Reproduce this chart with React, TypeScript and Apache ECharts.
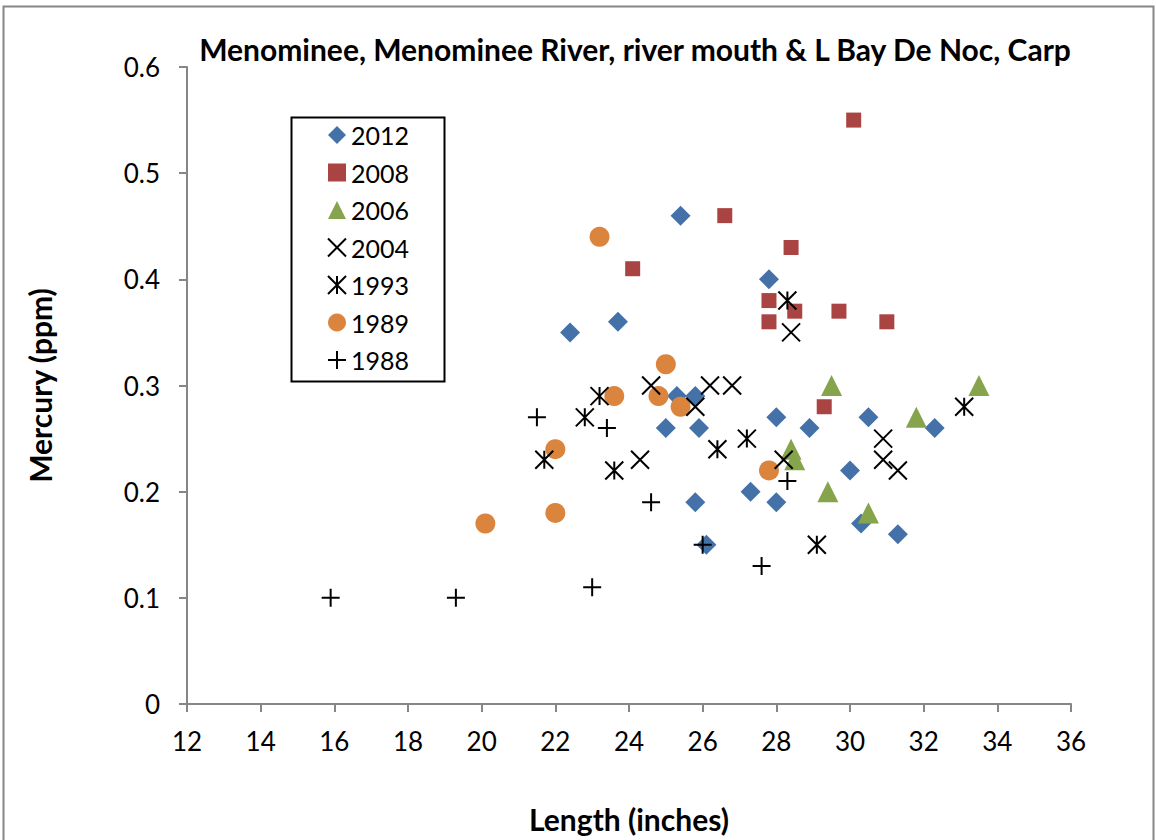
import React, { useEffect, useRef } from "react";
import * as echarts from "echarts";

const seriesNames = ["2012", "2008", "2006", "2004", "1993", "1989", "1988"];

const data2012: [number, number][] = [
  [22.4, 0.35], [23.7, 0.36], [25.4, 0.46], [27.8, 0.4], [25.0, 0.26], [25.3, 0.29],
  [25.8, 0.29], [25.9, 0.26], [25.8, 0.19], [26.1, 0.15], [27.3, 0.2], [28.0, 0.27],
  [28.0, 0.19], [28.9, 0.26], [30.0, 0.22], [30.5, 0.27], [30.3, 0.17], [31.3, 0.16],
  [32.3, 0.26],
];
const data2008: [number, number][] = [
  [30.1, 0.55], [26.6, 0.46], [28.4, 0.43], [24.1, 0.41], [27.8, 0.38], [28.5, 0.37],
  [29.7, 0.37], [27.8, 0.36], [31.0, 0.36], [29.3, 0.28],
];
const data2006: [number, number][] = [
  [29.5, 0.3], [33.5, 0.3], [31.8, 0.27], [28.4, 0.24], [28.5, 0.23], [29.4, 0.2], [30.5, 0.18],
];
const data2004: [number, number][] = [
  [24.6, 0.3], [26.2, 0.3], [26.8, 0.3], [25.8, 0.28], [24.3, 0.23], [28.2, 0.23],
  [30.9, 0.25], [30.9, 0.23], [31.3, 0.22], [28.4, 0.35],
];
const data1993: [number, number][] = [
  [23.2, 0.29], [22.8, 0.27], [21.7, 0.23], [23.6, 0.22], [26.4, 0.24], [27.2, 0.25],
  [28.3, 0.38], [29.1, 0.15], [33.1, 0.28],
];
const data1989: [number, number][] = [
  [25.0, 0.32], [23.6, 0.29], [24.8, 0.29], [25.4, 0.28], [22.0, 0.24], [22.0, 0.18],
  [20.1, 0.17], [27.8, 0.22], [23.2, 0.44],
];
const data1988: [number, number][] = [
  [21.5, 0.27], [23.4, 0.26], [24.6, 0.19], [26.0, 0.15], [28.3, 0.21], [27.6, 0.13],
  [15.9, 0.1], [19.3, 0.1], [23.0, 0.11],
];

const xTicks = { min: 12, max: 36, interval: 2 };
const yTicks = { min: 0, max: 0.6, interval: 0.1 };

const FONT = "Lato, 'Liberation Sans', sans-serif";

const X_PATH = "path://M0,0L10,10M10,0L0,10";
const STAR_PATH = "path://M0,0L10,10M10,0L0,10M5,0L5,10";
const PLUS_PATH = "path://M5,0L5,10M0,5L10,5";

export default function App() {
  const ref = useRef<HTMLDivElement>(null);
  useEffect(() => {
    document.body.style.margin = "0";
    const chart = echarts.init(ref.current!, undefined, { renderer: "svg" });
    const strokeSym = (sym: string, size: number) => ({
      symbol: sym,
      symbolSize: size,
      itemStyle: { color: "rgba(0,0,0,0)", borderColor: "#000", borderWidth: 2, opacity: 1 },
    });
    const option: any = {
      animation: false,
      backgroundColor: "#fff",
      textStyle: { fontFamily: FONT },
      title: {
        text: "Menominee, Menominee River, river mouth & L Bay De Noc, Carp",
        left: 630,
        top: 29,
        textAlign: "center",
        textStyle: { fontFamily: FONT, fontSize: 30, fontWeight: "bold", color: "#000" },
      },
      graphic: [
        {
          type: "rect",
          shape: { x: 3.5, y: 6.5, width: 1150, height: 860 },
          style: { fill: "none", stroke: "#868686", lineWidth: 2 },
          silent: true,
        },
        {
          type: "rect",
          shape: { x: 291.5, y: 117.5, width: 153, height: 264 },
          style: { fill: "#fff", stroke: "#000", lineWidth: 2 },
          silent: true,
          z: 0,
        },
      ],
      grid: { left: 187, right: 85, top: 67, bottom: 136, containLabel: false },
      xAxis: {
        type: "value",
        min: xTicks.min,
        max: xTicks.max,
        interval: xTicks.interval,
        name: "Length (inches)",
        nameLocation: "middle",
        nameGap: 100,
        nameTextStyle: { fontFamily: FONT, fontSize: 30, fontWeight: "bold", color: "#000" },
        axisLine: { show: true, lineStyle: { color: "#868686", width: 2 } },
        axisTick: { show: true, length: 8, lineStyle: { color: "#868686", width: 2 } },
        axisLabel: { fontFamily: FONT, fontSize: 26, color: "#000", margin: 24 },
        splitLine: { show: false },
      },
      yAxis: {
        type: "value",
        min: yTicks.min,
        max: yTicks.max,
        interval: yTicks.interval,
        name: "Mercury (ppm)",
        nameLocation: "middle",
        nameGap: 132,
        nameTextStyle: { fontFamily: FONT, fontSize: 30, fontWeight: "bold", color: "#000" },
        axisLine: { show: true, lineStyle: { color: "#868686", width: 2 } },
        axisTick: { show: true, length: 8, lineStyle: { color: "#868686", width: 2 } },
        axisLabel: {
          fontFamily: FONT,
          fontSize: 26,
          color: "#000",
          margin: 27,
          formatter: (v: number) => (v === 0 ? "0" : String(Math.round(v * 10) / 10)),
        },
        splitLine: { show: false },
      },
      legend: {
        orient: "vertical",
        left: 327,
        top: 120,
        padding: 0,
        itemGap: 7.5,
        itemWidth: 18,
        itemHeight: 18,
        data: seriesNames,
        textStyle: { fontFamily: FONT, fontSize: 25, color: "#000", lineHeight: 30 },
      },
      series: [
        {
          name: "2012", type: "scatter", data: data2012, symbol: "diamond", symbolSize: 20,
          itemStyle: { color: "#4472a8", opacity: 1 }, z: 2,
        },
        {
          name: "2008", type: "scatter", data: data2008, symbol: "rect", symbolSize: 15,
          itemStyle: { color: "#a94442", opacity: 1 }, z: 2,
        },
        {
          name: "2006", type: "scatter", data: data2006, symbol: "triangle", symbolSize: 21,
          itemStyle: { color: "#86a44c", opacity: 1 }, z: 3,
        },
        { name: "2004", type: "scatter", data: data2004, ...strokeSym(X_PATH, 18), z: 4 },
        { name: "1993", type: "scatter", data: data1993, ...strokeSym(STAR_PATH, 18), z: 4 },
        {
          name: "1989", type: "scatter", data: data1989, symbol: "circle", symbolSize: 20,
          itemStyle: { color: "#db843d", opacity: 1 }, z: 3,
        },
        { name: "1988", type: "scatter", data: data1988, ...strokeSym(PLUS_PATH, 18), z: 4 },
      ],
    };
    chart.setOption(option);
    return () => chart.dispose();
  }, []);
  return <div ref={ref} style={{ width: 1156, height: 840 }} />;
}
